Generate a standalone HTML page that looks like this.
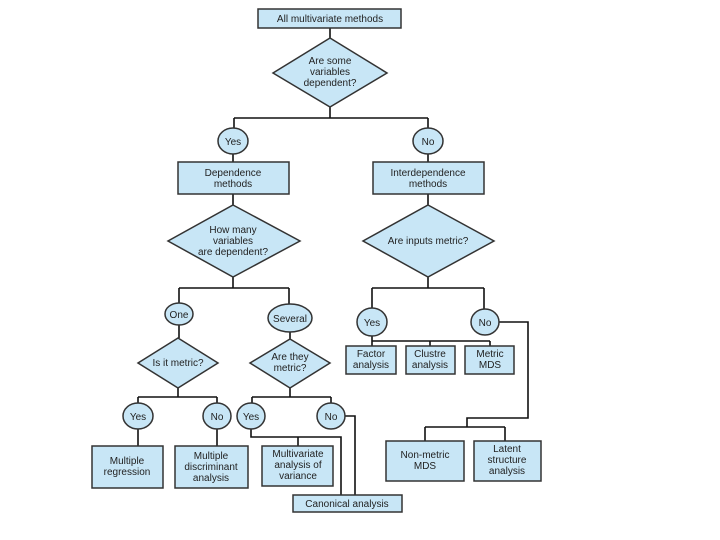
<!DOCTYPE html>
<html><head><style>
html,body{margin:0;padding:0;background:#fff;}
svg{display:block;}
text{font-family:"Liberation Sans",sans-serif;font-size:10px;fill:#222;text-anchor:middle;}
.b{fill:#c8e6f6;stroke:#333;stroke-width:1.5;}
.l{fill:none;stroke:#111;stroke-width:1.6;}
</style></head><body>
<svg width="720" height="540" viewBox="0 0 720 540">
<path class="l" d="M330 28V38 M330 107V118 M234 118H428 M234 118V128 M428 118V128
M233 154V162 M428 154V162 M233 194V205 M428 194V205 M233 277V288 M179 288H289 M179 288V303 M289 288V304
M428 277V288 M372 288H484 M372 288V308 M484 288V309
M372 336V341 M372 341H490 M372 341V346 M430 341V346 M490 341V346
M499 322H528V418H467V427 M425 427H505 M425 427V441 M505 427V441
M179 325V338 M178 388V397 M138 397H217 M138 397V403 M217 397V403 M138 429V446 M217 429V446
M290 332V339 M290 388V397 M252 397H331 M252 397V403 M331 397V403
M251 429V437H341V495 M298 437V446 M345 416H355V495"/>
<rect class="b" x="258" y="9" width="143" height="19"/>
<text x="330" y="22">All multivariate methods</text>
<polygon class="b" points="330,38 387,73 330,107 273,73"/>
<text x="330" y="64">Are some</text><text x="330" y="75">variables</text><text x="330" y="86">dependent?</text>
<ellipse class="b" cx="233" cy="141" rx="15" ry="13"/><text x="233" y="145">Yes</text>
<ellipse class="b" cx="428" cy="141" rx="15" ry="13"/><text x="428" y="145">No</text>
<rect class="b" x="178" y="162" width="111" height="32"/>
<text x="233" y="176">Dependence</text><text x="233" y="187">methods</text>
<rect class="b" x="373" y="162" width="111" height="32"/>
<text x="428" y="176">Interdependence</text><text x="428" y="187">methods</text>
<polygon class="b" points="233,205 300,241 233,277 168,241"/>
<text x="233" y="233">How many</text><text x="233" y="244">variables</text><text x="233" y="255">are dependent?</text>
<polygon class="b" points="428,205 494,241 428,277 363,241"/>
<text x="428" y="244">Are inputs metric?</text>
<ellipse class="b" cx="179" cy="314" rx="14" ry="11"/><text x="179" y="318">One</text>
<ellipse class="b" cx="290" cy="318" rx="22" ry="14"/><text x="290" y="322">Several</text>
<ellipse class="b" cx="372" cy="322" rx="15" ry="14"/><text x="372" y="326">Yes</text>
<ellipse class="b" cx="485" cy="322" rx="14" ry="13"/><text x="485" y="326">No</text>
<rect class="b" x="346" y="346" width="50" height="28"/><text x="371" y="357">Factor</text><text x="371" y="368">analysis</text>
<rect class="b" x="406" y="346" width="49" height="28"/><text x="430" y="357">Clustre</text><text x="430" y="368">analysis</text>
<rect class="b" x="465" y="346" width="49" height="28"/><text x="490" y="357">Metric</text><text x="490" y="368">MDS</text>
<rect class="b" x="386" y="441" width="78" height="40"/><text x="425" y="458">Non-metric</text><text x="425" y="469">MDS</text>
<rect class="b" x="474" y="441" width="67" height="40"/><text x="507" y="452">Latent</text><text x="507" y="463">structure</text><text x="507" y="474">analysis</text>
<polygon class="b" points="178,338 218,363 178,388 138,363"/><text x="178" y="366">Is it metric?</text>
<polygon class="b" points="290,339 330,363 290,388 250,363"/><text x="290" y="360">Are they</text><text x="290" y="371">metric?</text>
<ellipse class="b" cx="138" cy="416" rx="15" ry="13"/><text x="138" y="420">Yes</text>
<ellipse class="b" cx="217" cy="416" rx="14" ry="13"/><text x="217" y="420">No</text>
<ellipse class="b" cx="251" cy="416" rx="14" ry="13"/><text x="251" y="420">Yes</text>
<ellipse class="b" cx="331" cy="416" rx="14" ry="13"/><text x="331" y="420">No</text>
<rect class="b" x="92" y="446" width="71" height="42"/><text x="127" y="464">Multiple</text><text x="127" y="475">regression</text>
<rect class="b" x="175" y="446" width="73" height="42"/><text x="211" y="459">Multiple</text><text x="211" y="470">discriminant</text><text x="211" y="481">analysis</text>
<rect class="b" x="262" y="446" width="71" height="40"/><text x="298" y="457">Multivariate</text><text x="298" y="468">analysis of</text><text x="298" y="479">variance</text>
<rect class="b" x="293" y="495" width="109" height="17"/><text x="347" y="507">Canonical analysis</text>
</svg>
</body></html>
